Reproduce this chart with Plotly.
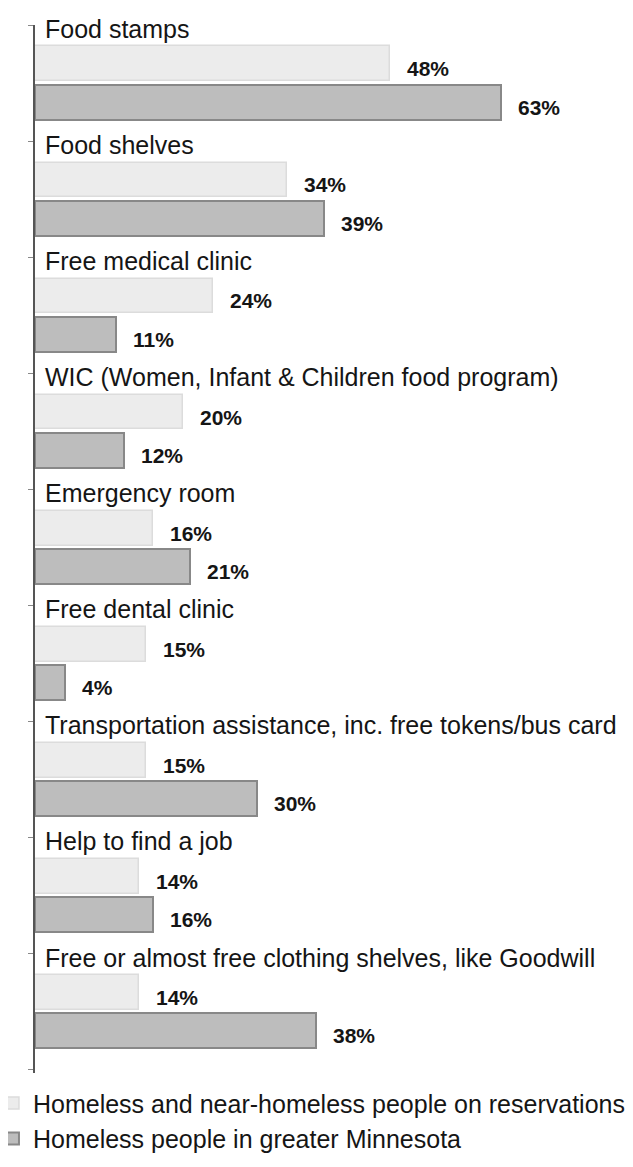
import plotly.graph_objects as go

services = [
    'Food stamps',
    'Food shelves',
    'Free medical clinic',
    'WIC (Women, Infant & Children food program)',
    'Emergency room',
    'Free dental clinic',
    'Transportation assistance, inc. free tokens/bus card',
    'Help to find a job',
    'Free or almost free clothing shelves, like Goodwill',
]
reservations = [48, 34, 24, 20, 16, 15, 15, 14, 14]
greater_mn = [63, 39, 11, 12, 21, 4, 30, 16, 38]
series_names = [
    'Homeless and near-homeless people on reservations',
    'Homeless people in greater Minnesota',
]

FONT = 'Liberation Sans, Arial, sans-serif'
TXT = '#151515'

# each service takes one unit on the (reversed) y axis:
# label at the top tick, then the light bar, then the dark bar
label_pos = 0.035
light_pos = 0.335
dark_pos = 0.665
bar_w = 0.30

n = len(services)
y_light = [i + light_pos for i in range(n)]
y_dark = [i + dark_pos for i in range(n)]

fig = go.Figure()
fig.add_trace(go.Bar(
    x=reservations, y=y_light, orientation='h', width=bar_w,
    name=series_names[0], legendgroup='a',
    marker=dict(color='#ececec', line=dict(color='#dcdcdc', width=1.5)),
))
fig.add_trace(go.Bar(
    x=greater_mn, y=y_dark, orientation='h', width=bar_w,
    name=series_names[1], legendgroup='b',
    marker=dict(color='#bdbdbd', line=dict(color='#888888', width=2)),
))

annotations = []
for i, name in enumerate(services):
    annotations.append(dict(
        x=0, y=i + label_pos, text=name, showarrow=False,
        xanchor='left', yanchor='middle', xshift=8,
        font=dict(family=FONT, size=25, color=TXT),
    ))
for vals, ys in ((reservations, y_light), (greater_mn, y_dark)):
    for v, y in zip(vals, ys):
        annotations.append(dict(
            x=v, y=y, text=f'<b>{v}%</b>', showarrow=False,
            xanchor='left', yanchor='middle', xshift=15, yshift=-5,
            font=dict(family=FONT, size=21, color=TXT),
        ))

fig.update_layout(
    width=633, height=1167,
    margin=dict(l=27, r=14, t=17, b=102, autoexpand=False),
    paper_bgcolor='white', plot_bgcolor='white',
    barmode='overlay', bargap=0,
    showlegend=True,
    legend=dict(
        orientation='v', x=-0.071, xanchor='left', y=-0.007, yanchor='top',
        font=dict(family=FONT, size=25, color=TXT),
        traceorder='normal', itemwidth=30, tracegroupgap=6,
    ),
    annotations=annotations,
    xaxis=dict(range=[0, 80], visible=False, fixedrange=True),
    yaxis=dict(
        range=[9.03, 0], showgrid=False, zeroline=False,
        showline=True, linecolor='#555', linewidth=1.5,
        tickvals=list(range(n + 1)), showticklabels=False,
        ticks='outside', ticklen=5, tickcolor='#888', tickwidth=1,
        fixedrange=True,
    ),
)

fig.write_html('out.html')
